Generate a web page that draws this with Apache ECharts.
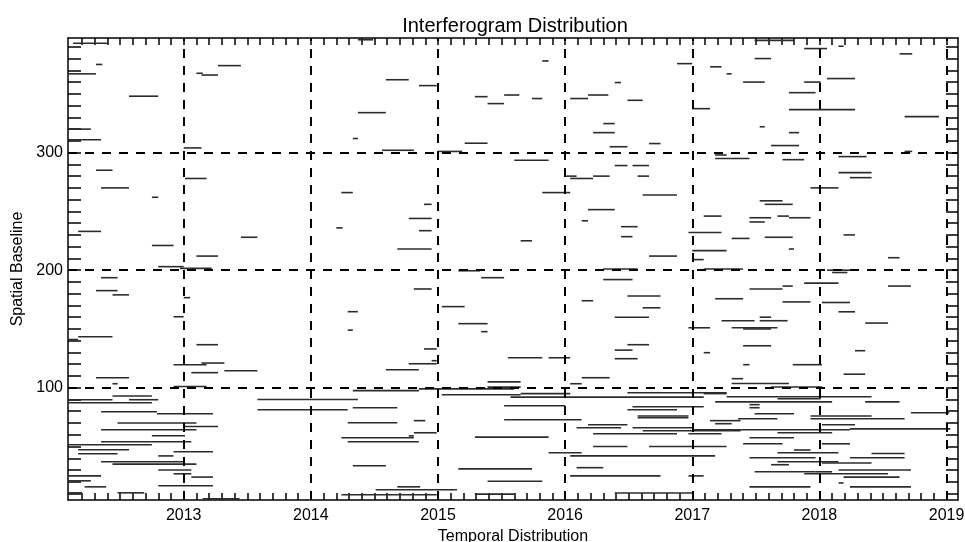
<!DOCTYPE html>
<html>
<head>
<meta charset="utf-8">
<title>Interferogram Distribution</title>
<script src="https://cdn.jsdelivr.net/npm/echarts@6/dist/echarts.min.js"></script>
<style>
  html, body { margin: 0; padding: 0; background: #fff; }
  #chart { width: 965px; height: 542px; }
</style>
</head>
<body>
<div id="chart"></div>
<script>
// interferogram pairs: master date, slave date (decimal year), spatial baseline
const startYear = [
  2012.13, 2012.31, 2012.09, 2013.10, 2013.14, 2013.27, 2012.57, 2012.09, 2012.09, 2013.00,
  2012.31, 2013.01, 2012.35, 2012.75, 2012.17, 2013.45, 2012.75, 2013.10, 2012.80, 2012.97,
  2014.59, 2014.85, 2014.37, 2014.33, 2014.56, 2015.00, 2015.29, 2015.39, 2015.52, 2015.21,
  2014.24, 2014.89, 2014.77, 2014.20, 2014.85, 2014.68, 2015.16, 2015.82, 2015.74, 2015.60,
  2016.04, 2016.18, 2016.49, 2016.39, 2016.30, 2016.22, 2016.35, 2016.66, 2016.88, 2017.14,
  2017.27, 2017.49, 2017.88, 2018.15, 2018.63, 2017.40, 2017.88, 2018.06, 2017.76, 2017.00,
  2017.76, 2018.67, 2017.53, 2017.76, 2017.62, 2018.67, 2017.18, 2017.18, 2017.71, 2018.15,
  2018.15, 2018.24, 2017.93, 2016.53, 2016.39, 2016.57, 2016.00, 2016.04, 2016.22, 2015.82,
  2016.61, 2017.53, 2017.57, 2016.18, 2017.09, 2017.45, 2017.45, 2017.67, 2017.76, 2016.13,
  2016.44, 2016.97, 2016.44, 2017.31, 2017.57, 2018.19, 2015.65, 2017.76, 2017.00, 2016.66,
  2018.54, 2017.00, 2016.30, 2017.09, 2018.06, 2018.10, 2014.37, 2017.49,
  // 100 - 200
  2012.35, 2012.31, 2012.44, 2013.00, 2012.92, 2012.17, 2012.09, 2013.10, 2013.14, 2012.92,
  2013.06, 2013.32, 2012.31, 2012.44, 2012.92, 2015.34, 2014.81, 2015.03, 2014.29, 2015.16,
  2014.29, 2015.34, 2014.89, 2014.95, 2014.77, 2014.59, 2015.55, 2015.87, 2015.39, 2015.39,
  2016.30, 2016.49, 2016.13, 2017.18, 2016.61, 2016.39, 2017.23, 2017.31, 2016.97, 2016.49,
  2016.39, 2017.09, 2016.39, 2016.13, 2016.04, 2017.31, 2017.31, 2017.45, 2017.71, 2017.88,
  2018.54, 2017.71, 2018.02, 2018.15, 2017.53, 2017.53, 2018.36, 2017.40, 2017.40, 2018.28,
  2017.40, 2017.79, 2018.19, 2017.62,
  // below 100
  2012.44, 2012.09, 2012.57, 2013.58, 2012.09, 2013.58, 2012.35, 2012.79, 2012.48, 2013.00,
  2012.35, 2012.75, 2012.35, 2012.09, 2012.17, 2012.92, 2012.17, 2012.80, 2012.35, 2012.44,
  2012.80, 2012.92, 2012.09, 2013.06, 2012.09, 2012.80, 2012.22, 2012.09, 2012.48, 2013.15,
  2014.51, 2014.68, 2014.33, 2014.85, 2015.03, 2014.33, 2014.81, 2014.29, 2014.81, 2014.77,
  2014.24, 2014.29, 2015.29, 2014.33, 2015.16, 2015.39, 2014.24, 2015.29, 2015.52, 2015.52,
  2015.57, 2016.49, 2015.65, 2016.53, 2016.49, 2016.57, 2016.57, 2017.14, 2016.18, 2016.09,
  2016.53, 2016.61, 2016.22, 2016.97, 2016.22, 2016.66, 2015.87, 2016.04, 2016.09, 2016.04,
  2016.97, 2016.39, 2017.27, 2017.09, 2017.67, 2017.18, 2018.36, 2017.45, 2017.45, 2018.72,
  2017.49, 2017.93, 2017.36, 2017.93, 2017.18, 2018.02, 2018.24, 2017.00, 2017.67, 2017.45,
  2017.40, 2018.02, 2017.80, 2017.67, 2018.41, 2017.45, 2018.24, 2017.67, 2018.02, 2017.62,
  2018.15, 2017.49, 2017.97, 2017.88, 2018.19, 2018.15, 2017.45, 2018.24
];
const endYear = [
  2012.40, 2012.36, 2012.31, 2013.15, 2013.27, 2013.45, 2012.80, 2012.27, 2012.35, 2013.14,
  2012.44, 2013.18, 2012.57, 2012.80, 2012.35, 2013.58, 2012.92, 2013.27, 2013.00, 2013.22,
  2014.77, 2014.99, 2014.59, 2014.37, 2014.81, 2015.19, 2015.39, 2015.52, 2015.64, 2015.39,
  2014.33, 2014.95, 2014.95, 2014.25, 2014.95, 2014.95, 2015.33, 2015.87, 2015.82, 2015.87,
  2016.18, 2016.34, 2016.61, 2016.44, 2016.39, 2016.39, 2016.49, 2016.75, 2017.00, 2017.23,
  2017.31, 2017.62, 2018.06, 2018.19, 2018.73, 2017.57, 2018.01, 2018.28, 2017.97, 2017.14,
  2018.28, 2018.94, 2017.57, 2017.84, 2017.84, 2018.73, 2017.27, 2017.45, 2017.88, 2018.37,
  2018.41, 2018.41, 2018.15, 2016.66, 2016.49, 2016.66, 2016.09, 2016.22, 2016.35, 2016.04,
  2016.88, 2017.71, 2017.79, 2016.39, 2017.23, 2017.62, 2017.57, 2017.76, 2017.93, 2016.18,
  2016.57, 2017.23, 2016.53, 2017.45, 2017.79, 2018.28, 2015.74, 2017.80, 2017.27, 2016.88,
  2018.63, 2017.09, 2016.57, 2017.40, 2018.24, 2018.22, 2014.49, 2017.80,
  // 100 - 200
  2012.48, 2012.48, 2012.57, 2013.05, 2013.00, 2012.44, 2012.17, 2013.27, 2013.32, 2013.18,
  2013.27, 2013.58, 2012.57, 2012.48, 2013.18, 2015.52, 2014.95, 2015.21, 2014.37, 2015.39,
  2014.33, 2015.39, 2014.99, 2014.99, 2014.99, 2014.85, 2015.82, 2016.04, 2015.65, 2015.65,
  2016.53, 2016.75, 2016.22, 2017.40, 2016.75, 2016.66, 2017.49, 2017.67, 2017.14, 2016.66,
  2016.53, 2017.14, 2016.57, 2016.35, 2016.13, 2017.40, 2017.76, 2017.71, 2017.79, 2018.15,
  2018.72, 2017.93, 2018.24, 2018.28, 2017.62, 2017.75, 2018.54, 2017.62, 2017.62, 2018.36,
  2017.45, 2018.02, 2018.36, 2018.02,
  // below 100
  2012.75, 2012.44, 2012.80, 2014.37, 2012.75, 2014.29, 2012.79, 2013.23, 2013.10, 2013.27,
  2013.10, 2013.01, 2013.06, 2012.75, 2012.57, 2013.23, 2012.48, 2012.92, 2013.01, 2013.10,
  2013.06, 2013.06, 2012.35, 2013.23, 2012.27, 2013.23, 2012.39, 2012.20, 2012.69, 2013.44,
  2015.15, 2014.86, 2014.85, 2015.60, 2015.65, 2014.68, 2014.90, 2014.68, 2014.99, 2014.81,
  2014.81, 2014.85, 2015.87, 2014.59, 2015.74, 2015.82, 2014.99, 2015.60, 2016.00, 2016.13,
  2017.09, 2017.27, 2016.04, 2017.09, 2016.88, 2016.97, 2016.97, 2017.38, 2016.49, 2016.44,
  2017.00, 2017.38, 2016.88, 2017.23, 2016.49, 2017.27, 2016.13, 2017.18, 2016.30, 2016.75,
  2017.09, 2017.00, 2018.41, 2017.27, 2018.01, 2018.10, 2018.63, 2017.53, 2017.53, 2019.02,
  2017.80, 2018.41, 2017.67, 2018.67, 2017.31, 2018.28, 2019.03, 2018.24, 2018.10, 2017.80,
  2017.71, 2018.24, 2017.93, 2018.15, 2018.67, 2017.97, 2018.67, 2018.15, 2018.41, 2017.76,
  2018.72, 2017.97, 2018.10, 2018.54, 2018.63, 2018.19, 2017.93, 2018.72
];
const baseline = [
  393, 375, 367, 367.5, 366, 374, 348, 320, 311, 304,
  285, 278, 270, 262, 233, 228, 221, 212, 203, 201.5,
  362, 357, 334, 312, 302, 301, 347.6, 341.7, 349, 308,
  266, 256, 244, 236, 233.6, 218, 199.5, 378, 346, 293.5,
  346, 349, 344.5, 359.6, 324.7, 317, 305, 307.7, 375.7, 373,
  367, 380, 388.5, 390.5, 384, 360, 360, 363, 351, 337.4,
  336.6, 330.6, 322, 317, 306, 301, 298, 295, 294, 296.6,
  283, 278.7, 270, 289, 289, 280, 280, 278, 280, 266,
  264, 259, 256, 251.5, 246, 244.6, 241, 246, 244.6, 242,
  237, 232, 228.5, 227, 228, 230, 225, 218, 216.6, 212,
  210.6, 209, 201, 201, 200, 198, 396, 395.5,
  // 100 - 200
  193.6, 182.6, 179, 176.6, 160.4, 143.4, 141, 136.6, 121, 119.5,
  112.8, 114.5, 108.5, 103.4, 101, 193.6, 184, 169, 164.7, 154.5,
  149, 147.7, 133, 123, 120.4, 115.3, 125.5, 125.5, 105, 100.5,
  192, 178, 174, 175.7, 168, 160, 157, 151, 151, 136.6,
  132, 129.8, 124.7, 108.5, 103.4, 107.7, 103.6, 184, 186.5, 189,
  186.5, 173, 172.5, 164.6, 160, 157, 155, 150, 135.7, 131.5,
  119.6, 119.6, 111.5, 100.6,
  // below 100
  93, 89.8, 89.8, 90, 87.2, 81.3, 79.6, 77.9, 70, 67,
  64.3, 59.1, 54, 51.5, 47.2, 45.5, 43.8, 42, 37, 35,
  30, 26.8, 25, 24, 20.8, 16.6, 15.7, 10.6, 10.6, 5.5,
  13.2, 15.7, 97.5, 99, 94, 83, 72, 70.2, 61.7, 59,
  57.4, 54, 58, 33.6, 31, 20.5, 9, 9.5, 84.7, 72.8,
  92, 95.7, 95, 83.8, 81.3, 74.5, 76, 72, 68.5, 66,
  66, 63.4, 60.8, 60.8, 50, 50, 44.7, 42, 32, 25,
  25, 10.5, 92.3, 95, 90.6, 88, 88, 85.6, 83, 78.7,
  77.9, 76, 73.6, 73.6, 69.4, 68.5, 65, 64.3, 61.7, 57.4,
  52.3, 52.3, 47, 44.7, 44, 40.4, 40.4, 37, 36, 34.5,
  30, 28.5, 28.5, 26.8, 24, 19, 15.7, 15.7
];

const xLabels = [2013, 2014, 2015, 2016, 2017, 2018, 2019];
const yLabels = [100, 200, 300];

const xMin = 2012.09, xMax = 2019.09;
const yMin = 4.5, yMax = 397.5;

// minor ticks: every 0.1 yr on x, every 10 on y
const xMinor = [];
for (let i = 2012.2; i <= 2019.001; i += 0.1) xMinor.push(Math.round(i * 10) / 10);
const yMinor = [];
for (let v = 10; v <= 390; v += 10) yMinor.push(v);

const segments = startYear.map((s, i) => [s, endYear[i], baseline[i]]);

const font = 'Liberation Sans, Arial, Helvetica, sans-serif';
const axisLineStyle = { color: '#000', width: 1.5 };

const chart = echarts.init(document.getElementById('chart'));

const option = {
  animation: false,
  backgroundColor: '#fff',
  title: {
    text: 'Interferogram Distribution',
    left: 510,
    top: 11,
    textAlign: 'center',
    textStyle: { fontFamily: font, fontSize: 20, fontWeight: 'normal', color: '#000' }
  },
  grid: { left: 68, right: 7, top: 38, bottom: 42, outerBoundsMode: 'none' },
  xAxis: [
    {
      type: 'value',
      position: 'bottom',
      min: xMin,
      max: xMax,
      name: 'Temporal Distribution',
      nameLocation: 'middle',
      nameGap: 23,
      nameTextStyle: { fontFamily: font, fontSize: 16, color: '#000' },
      axisLine: { show: true, onZero: false, lineStyle: axisLineStyle },
      axisTick: { show: true, inside: true, length: 7, customValues: xMinor, lineStyle: axisLineStyle },
      axisLabel: {
        customValues: xLabels, fontFamily: font, fontSize: 16, color: '#000', margin: 8,
        formatter: v => String(Math.round(v))
      },
      splitLine: { show: false }
    },
    {
      type: 'value',
      position: 'top',
      min: xMin,
      max: xMax,
      axisLine: { show: true, onZero: false, lineStyle: axisLineStyle },
      axisTick: { show: true, inside: true, length: 7, customValues: xMinor, lineStyle: axisLineStyle },
      axisLabel: { show: false },
      splitLine: { show: false }
    }
  ],
  yAxis: [
    {
      type: 'value',
      position: 'left',
      min: yMin,
      max: yMax,
      name: 'Spatial Baseline',
      nameLocation: 'middle',
      nameGap: 40,
      nameTextStyle: { fontFamily: font, fontSize: 16, color: '#000' },
      axisLine: { show: true, onZero: false, lineStyle: axisLineStyle },
      axisTick: { show: true, inside: true, length: 13, customValues: yMinor, lineStyle: axisLineStyle },
      axisLabel: {
        customValues: yLabels, fontFamily: font, fontSize: 16, color: '#000', margin: 5,
        formatter: v => String(Math.round(v))
      },
      splitLine: { show: false }
    },
    {
      type: 'value',
      position: 'right',
      min: yMin,
      max: yMax,
      axisLine: { show: true, onZero: false, lineStyle: axisLineStyle },
      axisTick: { show: true, inside: true, length: 12, customValues: yMinor, lineStyle: axisLineStyle },
      axisLabel: { show: false },
      splitLine: { show: false }
    }
  ],
  series: [
    {
      // dashed grid at whole years and every 100
      type: 'line',
      data: [],
      silent: true,
      markLine: {
        silent: true,
        symbol: 'none',
        label: { show: false },
        lineStyle: { color: '#000', width: 2, type: [9, 8] },
        data: xLabels.map(v => ({ xAxis: v })).concat(yLabels.map(v => ({ yAxis: v })))
      }
    },
    {
      type: 'custom',
      data: segments,
      encode: { x: [0, 1], y: 2 },
      renderItem: function (params, api) {
        const p1 = api.coord([api.value(0), api.value(2)]);
        const p2 = api.coord([api.value(1), api.value(2)]);
        return {
          type: 'line',
          shape: { x1: p1[0], y1: p1[1], x2: p2[0], y2: p2[1] },
          style: { stroke: '#2c2c2c', lineWidth: 1.6 }
        };
      }
    }
  ]
};

chart.setOption(option);
</script>
</body>
</html>
